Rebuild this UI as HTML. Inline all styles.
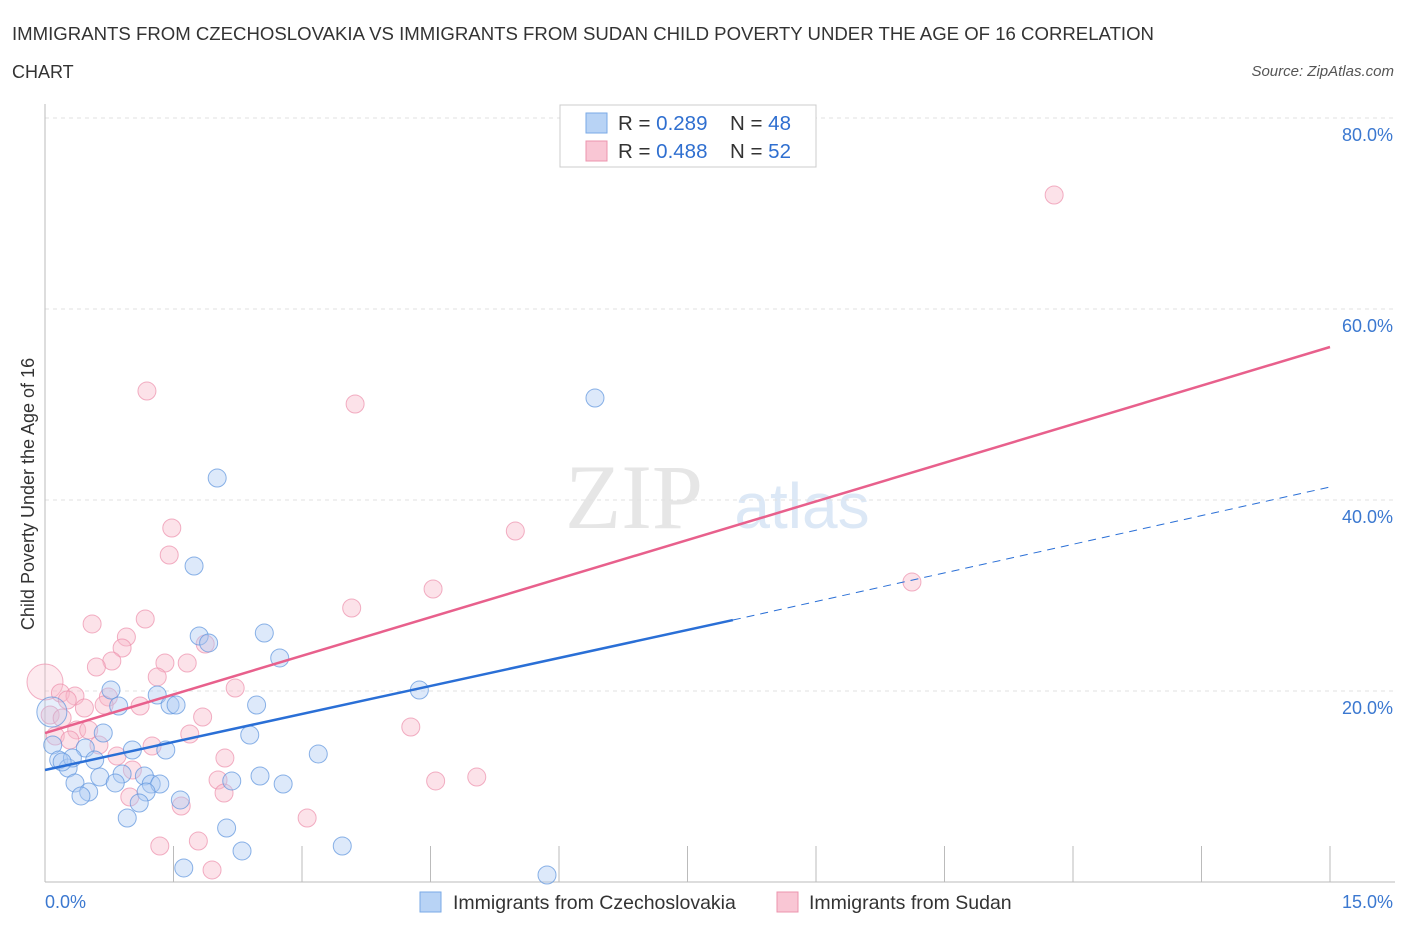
<!DOCTYPE html>
<html><head><meta charset="utf-8"><style>
body{margin:0;background:#fff;font-family:"Liberation Sans",sans-serif;}
svg text{font-family:"Liberation Sans",sans-serif;}
</style></head><body>
<svg id="c" width="1406" height="930" xmlns="http://www.w3.org/2000/svg">
<text x="12" y="40" font-size="18" fill="#333" textLength="1142" lengthAdjust="spacingAndGlyphs">IMMIGRANTS FROM CZECHOSLOVAKIA VS IMMIGRANTS FROM SUDAN CHILD POVERTY UNDER THE AGE OF 16 CORRELATION</text>
<text x="12" y="78" font-size="18" fill="#333">CHART</text>
<text x="1394" y="76" font-size="15" fill="#555" font-style="italic" text-anchor="end">Source: ZipAtlas.com</text>
<text x="634" y="528" font-size="92" fill="#e6e6e6" text-anchor="middle" style="font-family:'Liberation Serif',serif">ZIP</text>
<text x="802" y="528" font-size="64" fill="#dce8f6" text-anchor="middle">atlas</text>
<text transform="translate(34,494) rotate(-90)" font-size="18" fill="#333" text-anchor="middle">Child Poverty Under the Age of 16</text>
<g id="grid"></g><g id="marks"></g><g id="lines"></g>
<g>
<rect x="560" y="105" width="256" height="62" fill="#fff" stroke="#ccc"/>
<rect x="586" y="113" width="21" height="20" fill="#b8d3f5" stroke="#7aaae6"/>
<rect x="586" y="141" width="21" height="20" fill="#f9c6d4" stroke="#ec94ae"/>
<text x="618" y="130" font-size="20.5" fill="#333">R = <tspan fill="#2f6fd0">0.289</tspan></text>
<text x="730" y="130" font-size="20.5" fill="#333">N = <tspan fill="#2f6fd0">48</tspan></text>
<text x="618" y="158" font-size="20.5" fill="#333">R = <tspan fill="#2f6fd0">0.488</tspan></text>
<text x="730" y="158" font-size="20.5" fill="#333">N = <tspan fill="#2f6fd0">52</tspan></text>
</g>
<g>
<rect x="420" y="892" width="21" height="20" fill="#b8d3f5" stroke="#7aaae6"/>
<text x="453" y="909" font-size="19.5" fill="#333">Immigrants from Czechoslovakia</text>
<rect x="777" y="892" width="21" height="20" fill="#f9c6d4" stroke="#ec94ae"/>
<text x="809" y="909" font-size="19.5" fill="#333">Immigrants from Sudan</text>
</g>
</svg>
<script>
const yTicks=[20,40,60,80];
const yTickLabels=["20.0%","40.0%","60.0%","80.0%"];
const xTicks=[0,1.5,3,4.5,6,7.5,9,10.5,12,13.5,15];
const blueX=[6.42,2.01,1.74,2.56,1.80,1.91,2.74,0.77,4.37,1.31,0.86,1.46,1.53,2.47,0.68,2.39,0.08,1.02,1.41,0.47,3.19,0.09,0.16,0.58,0.27,0.90,0.64,1.16,2.51,2.18,0.35,0.82,1.24,1.34,2.78,0.51,0.42,1.18,1.58,1.10,0.96,2.12,3.47,2.30,1.62,5.86,0.32,0.20];
const blueY=[50.68,42.30,33.09,26.07,25.76,25.03,23.46,20.10,20.10,19.58,18.43,18.53,18.53,18.53,15.60,15.39,17.80,13.82,13.82,14.03,13.40,14.35,12.77,12.77,11.94,11.31,10.99,11.10,11.10,10.58,10.37,10.37,10.26,10.26,10.26,9.42,9.01,9.42,8.59,8.27,6.70,5.65,3.77,3.25,1.47,0.73,12.98,12.57];
const pinkX=[11.78,1.19,3.62,5.49,1.48,1.45,4.53,10.12,3.58,1.17,0.55,0.95,1.87,0.90,0.78,1.40,1.66,0.60,1.31,2.22,0.00,0.18,0.35,0.74,0.46,1.11,0.69,1.84,0.06,0.20,0.37,4.27,1.69,0.51,0.63,1.25,0.84,2.10,1.02,2.02,4.56,5.04,2.09,0.99,1.59,3.06,1.79,1.34,1.95,0.12,0.29,0.26];
const pinkY=[71.94,51.41,50.05,36.75,37.07,34.24,30.68,31.41,28.69,27.54,27.02,25.65,24.92,24.50,23.14,22.93,22.93,22.51,21.47,20.31,20.94,19.79,19.48,19.37,18.22,18.43,18.53,17.28,17.49,17.17,15.92,16.23,15.50,15.92,14.35,14.24,13.19,12.98,11.73,10.68,10.58,10.99,9.32,8.90,7.96,6.70,4.29,3.77,1.26,15.29,14.87,19.06];
const blueTrend=[0,11.73,8.03,27.43,15,41.36];
const pinkTrend=[0,15.60,15,56.02];
const NS="http://www.w3.org/2000/svg";
const X=v=>45+v/15*1285, Y=v=>882-v/20*191;
function mk(tag,attrs,parent){const e=document.createElementNS(NS,tag);for(const k in attrs)e.setAttribute(k,attrs[k]);document.getElementById(parent).appendChild(e);return e;}
yTicks.forEach((t,i)=>{
 const l=mk('line',{x1:45,x2:1395,y1:Y(t),y2:Y(t),stroke:'#e2e2e2','stroke-dasharray':'4,4'},'grid');
 
 
 const tx=mk('text',{x:1393,y:Y(t)+23,'font-size':18,fill:'#3b78d0','text-anchor':'end'},'grid');tx.textContent=yTickLabels[i];
 
 
});
const ya=mk('line',{x1:45,x2:45,y1:104,y2:882,stroke:'#bbb'},'grid');


const xa=mk('line',{x1:45,x2:1395,y1:882,y2:882,stroke:'#bbb'},'grid');


xTicks.forEach(t=>{const l=mk('line',{x1:X(t),x2:X(t),y1:846,y2:882,stroke:'#bbb'},'grid');
 
 });
const x0=mk('text',{x:45,y:908,'font-size':18,fill:'#3b78d0'},'grid');x0.textContent='0.0%';


const x1=mk('text',{x:1393,y:908,'font-size':18,fill:'#3b78d0','text-anchor':'end'},'grid');x1.textContent='15.0%';


function pts(xs,ys,fill,stroke,name,bigIdx,bigR){xs.forEach((v,i)=>{
 const c=mk('circle',{cx:X(v),cy:Y(ys[i]),r:i===bigIdx?bigR:9,fill:fill,'fill-opacity':i===bigIdx?0.3:0.42,stroke:stroke,'stroke-opacity':0.7,'stroke-width':1},'marks');
 
 });}
pts(pinkX,pinkY,'#f7b9cb','#ec8fab','sudan-point',20,18);
pts(blueX,blueY,'#aecbf2','#5b93dd','czechoslovakia-point',16,15);
const bl=mk('line',{x1:X(blueTrend[0]),y1:Y(blueTrend[1]),x2:X(blueTrend[2]),y2:Y(blueTrend[3]),stroke:'#2a6fd6','stroke-width':2.5},'lines');


const bd=mk('line',{x1:X(blueTrend[2]),y1:Y(blueTrend[3]),x2:X(blueTrend[4]),y2:Y(blueTrend[5]),stroke:'#2a6fd6','stroke-width':1,'stroke-dasharray':'8,6'},'lines');


const pl=mk('line',{x1:X(pinkTrend[0]),y1:Y(pinkTrend[1]),x2:X(pinkTrend[2]),y2:Y(pinkTrend[3]),stroke:'#e8608c','stroke-width':2.5},'lines');


</script>
</body></html>
